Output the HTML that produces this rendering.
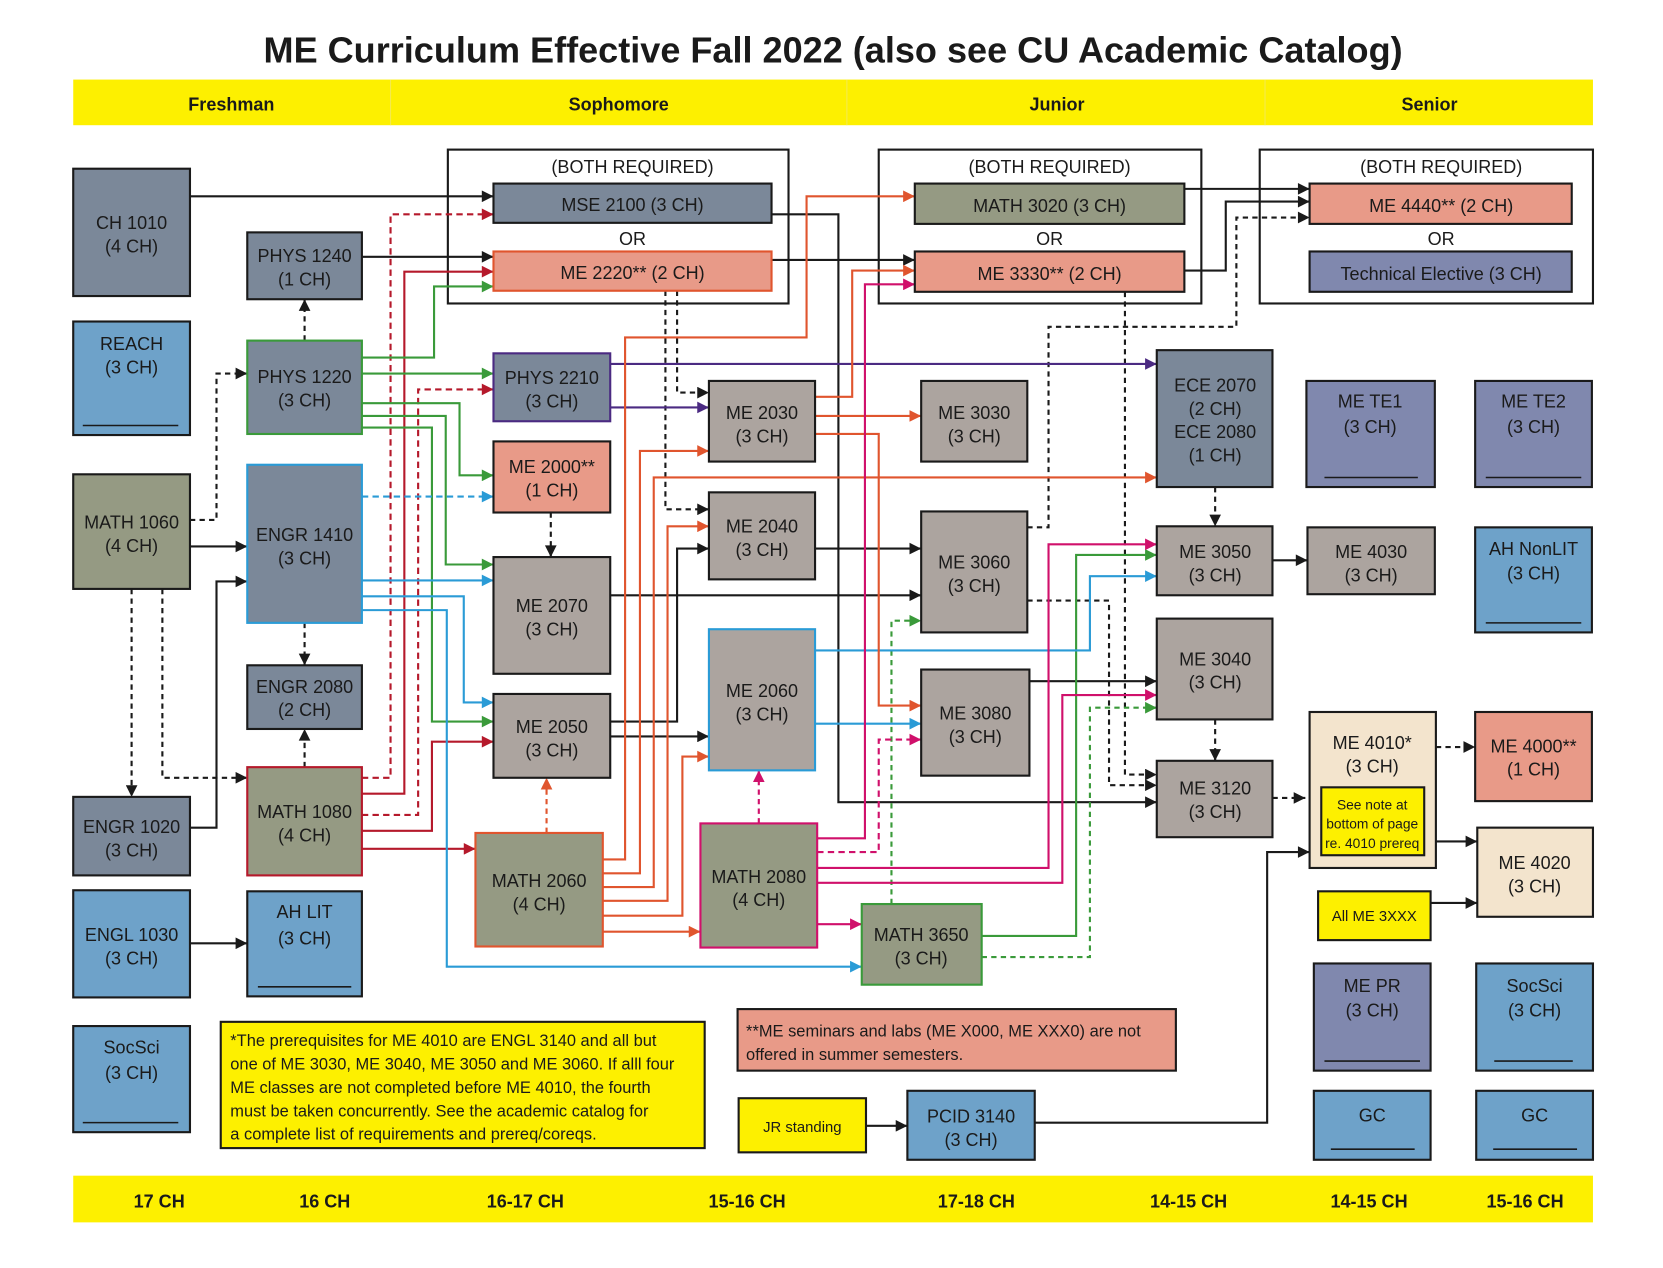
<!DOCTYPE html>
<html><head><meta charset="utf-8"><style>
html,body{margin:0;padding:0;background:#fff;}
svg{display:block;}
text{font-family:"Liberation Sans Narrow","Liberation Sans",sans-serif;font-stretch:condensed;fill:#1a1a1a;}
.b{font-size:17px;text-anchor:middle;}
.s{font-size:13px;text-anchor:middle;}
.n{font-size:15.5px;}
</style></head><body>
<svg width="1663" height="1268" viewBox="0 0 1567 1195" preserveAspectRatio="none" xmlns="http://www.w3.org/2000/svg">
<defs>
<marker id="mk" viewBox="0 0 10 10" refX="10" refY="5" markerWidth="12" markerHeight="11" markerUnits="userSpaceOnUse" orient="auto"><path d="M0,0L10,5L0,10z" fill="#1a1a1a"/></marker>
<marker id="mr" viewBox="0 0 10 10" refX="10" refY="5" markerWidth="12" markerHeight="11" markerUnits="userSpaceOnUse" orient="auto"><path d="M0,0L10,5L0,10z" fill="#b5192b"/></marker>
<marker id="mg" viewBox="0 0 10 10" refX="10" refY="5" markerWidth="12" markerHeight="11" markerUnits="userSpaceOnUse" orient="auto"><path d="M0,0L10,5L0,10z" fill="#3a9a3a"/></marker>
<marker id="mb" viewBox="0 0 10 10" refX="10" refY="5" markerWidth="12" markerHeight="11" markerUnits="userSpaceOnUse" orient="auto"><path d="M0,0L10,5L0,10z" fill="#2a9bd6"/></marker>
<marker id="mo" viewBox="0 0 10 10" refX="10" refY="5" markerWidth="12" markerHeight="11" markerUnits="userSpaceOnUse" orient="auto"><path d="M0,0L10,5L0,10z" fill="#e0552e"/></marker>
<marker id="mp" viewBox="0 0 10 10" refX="10" refY="5" markerWidth="12" markerHeight="11" markerUnits="userSpaceOnUse" orient="auto"><path d="M0,0L10,5L0,10z" fill="#4b2a82"/></marker>
<marker id="mm" viewBox="0 0 10 10" refX="10" refY="5" markerWidth="12" markerHeight="11" markerUnits="userSpaceOnUse" orient="auto"><path d="M0,0L10,5L0,10z" fill="#d0106b"/></marker>
</defs>

<text x="785" y="59" style="font-size:34px;font-weight:bold;text-anchor:middle">ME Curriculum Effective Fall 2022 (also see CU Academic Catalog)</text>

<rect x="69" y="75" width="1432" height="43" fill="#fdf000"/>
<g stroke="#f4ea50" stroke-width="1"><line x1="368" y1="75" x2="368" y2="118"/><line x1="798" y1="75" x2="798" y2="118"/><line x1="1192" y1="75" x2="1192" y2="118"/></g>
<g style="font-weight:bold"><text class="b" x="218" y="104">Freshman</text><text class="b" x="583" y="104">Sophomore</text><text class="b" x="996" y="104">Junior</text><text class="b" x="1347" y="104">Senior</text></g>
<rect x="69" y="1108" width="1432" height="44" fill="#fdf000"/>
<g style="font-weight:bold">
<text class="b" x="150" y="1138">17 CH</text><text class="b" x="306" y="1138">16 CH</text><text class="b" x="495" y="1138">16-17 CH</text><text class="b" x="704" y="1138">15-16 CH</text><text class="b" x="920" y="1138">17-18 CH</text><text class="b" x="1120" y="1138">14-15 CH</text><text class="b" x="1290" y="1138">14-15 CH</text><text class="b" x="1437" y="1138">15-16 CH</text></g>

<g fill="#fff" stroke="#1a1a1a" stroke-width="2">
<rect x="422" y="141" width="321" height="145"/>
<rect x="828" y="141" width="304" height="145"/>
<rect x="1187" y="141" width="314" height="145"/>
</g>
<text class="b" x="596" y="163">(BOTH REQUIRED)</text><text class="b" x="596" y="231">OR</text>
<text class="b" x="989" y="163">(BOTH REQUIRED)</text><text class="b" x="989" y="231">OR</text>
<text class="b" x="1358" y="163">(BOTH REQUIRED)</text><text class="b" x="1358" y="231">OR</text>

<g fill="none" stroke-width="2">
<g stroke="#1a1a1a" marker-end="url(#mk)">
<polyline points="179,185 465,185"/>
<polyline points="341,242 465,242"/>
<polyline points="287,321 287,282" stroke-dasharray="5,4"/>
<polyline points="179,490 204,490 204,352 233,352" stroke-dasharray="5,4"/>
<polyline points="179,515 233,515"/>
<polyline points="124,555 124,751" stroke-dasharray="5,4"/>
<polyline points="153,555 153,733 233,733" stroke-dasharray="5,4"/>
<polyline points="179,780 204,780 204,548 233,548"/>
<polyline points="287,587 287,627" stroke-dasharray="5,4"/>
<polyline points="287,723 287,687" stroke-dasharray="5,4"/>
<polyline points="179,889 233,889"/>
<polyline points="519,483 519,525" stroke-dasharray="5,4"/>
<polyline points="627,274 627,480 668,480" stroke-dasharray="5,4"/>
<polyline points="638,274 638,370 668,370" stroke-dasharray="5,4"/>
<polyline points="727,202 790,202 790,756 1090,756"/>
<polyline points="727,245 862,245"/>
<polyline points="768,517 868,517"/>
<polyline points="575,561 868,561"/>
<polyline points="575,680 638,680 638,517 668,517"/>
<polyline points="575,694 668,694"/>
<polyline points="1116,178 1234,178"/>
<polyline points="1116,255 1155,255 1155,190 1234,190"/>
<polyline points="968,497 988,497 988,308 1165,308 1165,205 1234,205" stroke-dasharray="5,4"/>
<polyline points="1060,275 1060,730 1090,730" stroke-dasharray="5,4"/>
<polyline points="968,566 1045,566 1045,740 1090,740" stroke-dasharray="5,4"/>
<polyline points="1145,459 1145,496" stroke-dasharray="5,4"/>
<polyline points="1199,528 1232,528"/>
<polyline points="970,642 1090,642"/>
<polyline points="1145,678 1145,717" stroke-dasharray="5,4"/>
<polyline points="1199,752 1230,752" stroke-dasharray="5,4"/>
<polyline points="1353,704 1390,704" stroke-dasharray="5,4"/>
<polyline points="1353,793 1392,793"/>
<polyline points="1348,851 1392,851"/>
<polyline points="816,1061 855,1061"/>
<polyline points="975,1058 1194,1058 1194,803 1234,803"/>
</g>
<g stroke="#b5192b" marker-end="url(#mr)">
<polyline points="341,733 368,733 368,202 465,202" stroke-dasharray="6,4"/>
<polyline points="341,748 381,748 381,256 465,256"/>
<polyline points="341,768 394,768 394,367 465,367" stroke-dasharray="6,4"/>
<polyline points="341,783 407,783 407,699 465,699"/>
<polyline points="341,800 448,800"/>
</g>
<g stroke="#3a9a3a" marker-end="url(#mg)">
<polyline points="341,337 409,337 409,270 465,270"/>
<polyline points="341,352 465,352"/>
<polyline points="341,380 433,380 433,448 465,448"/>
<polyline points="341,392 420,392 420,532 465,532"/>
<polyline points="341,403 407,403 407,680 465,680"/>
<polyline points="840,852 840,585 868,585" stroke-dasharray="5,4"/>
<polyline points="925,882 1014,882 1014,523 1090,523"/>
<polyline points="925,902 1027,902 1027,667 1090,667" stroke-dasharray="5,4"/>
</g>
<g stroke="#2a9bd6" marker-end="url(#mb)">
<polyline points="341,468 465,468" stroke-dasharray="6,4"/>
<polyline points="341,547 465,547"/>
<polyline points="341,562 437,562 437,662 465,662"/>
<polyline points="341,575 421,575 421,911 812,911"/>
<polyline points="768,613 1027,613 1027,543 1090,543"/>
<polyline points="768,682 868,682"/>
</g>
<g stroke="#4b2a82" marker-end="url(#mp)">
<polyline points="575,343 1090,343"/>
<polyline points="575,384 668,384"/>
</g>
<g stroke="#e0552e" marker-end="url(#mo)">
<polyline points="515,785 515,733" stroke-dasharray="5,4"/>
<polyline points="568,810 589,810 589,318 760,318 760,185 862,185"/>
<polyline points="568,823 603,823 603,425 668,425"/>
<polyline points="568,836 616,836 616,450 1090,450"/>
<polyline points="568,849 629,849 629,496 668,496"/>
<polyline points="568,863 643,863 643,713 668,713"/>
<polyline points="568,878 660,878"/>
<polyline points="768,374 803,374 803,255 862,255"/>
<polyline points="768,392 868,392"/>
<polyline points="768,409 828,409 828,665 868,665"/>
</g>
<g stroke="#d0106b" marker-end="url(#mm)">
<polyline points="715,776 715,726" stroke-dasharray="5,4"/>
<polyline points="770,790 815,790 815,268 862,268"/>
<polyline points="770,803 828,803 828,697 868,697" stroke-dasharray="6,4"/>
<polyline points="770,818 988,818 988,513 1090,513"/>
<polyline points="770,832 1001,832 1001,655 1090,655"/>
<polyline points="770,871 812,871"/>
</g>
</g>

<g stroke="#1a1a1a" stroke-width="2">
<rect x="69" y="159" width="110" height="120" fill="#7b8899"/>
<rect x="69" y="303" width="110" height="107" fill="#6ea2c9"/>
<rect x="69" y="447" width="110" height="108" fill="#959a83"/>
<rect x="69" y="751" width="110" height="74" fill="#7b8899"/>
<rect x="69" y="839" width="110" height="101" fill="#6ea2c9"/>
<rect x="69" y="967" width="110" height="100" fill="#6ea2c9"/>
<rect x="233" y="219" width="108" height="63" fill="#7b8899"/>
<rect x="233" y="321" width="108" height="88" fill="#7b8899" stroke="#3a9a3a"/>
<rect x="233" y="438" width="108" height="149" fill="#7b8899" stroke="#2a9bd6"/>
<rect x="233" y="627" width="108" height="60" fill="#7b8899"/>
<rect x="233" y="723" width="108" height="102" fill="#959a83" stroke="#b5192b"/>
<rect x="233" y="840" width="108" height="99" fill="#6ea2c9"/>
<rect x="465" y="173" width="262" height="37" fill="#7b8899"/>
<rect x="465" y="237" width="262" height="37" fill="#e89a88" stroke="#e0552e"/>
<rect x="465" y="333" width="110" height="64" fill="#7b8899" stroke="#4b2a82"/>
<rect x="465" y="416" width="110" height="67" fill="#e89a88"/>
<rect x="465" y="525" width="110" height="110" fill="#aca49f"/>
<rect x="465" y="654" width="110" height="79" fill="#aca49f"/>
<rect x="448" y="785" width="120" height="107" fill="#959a83" stroke="#e0552e"/>
<rect x="668" y="359" width="100" height="76" fill="#aca49f"/>
<rect x="668" y="464" width="100" height="82" fill="#aca49f"/>
<rect x="668" y="593" width="100" height="133" fill="#aca49f" stroke="#2a9bd6"/>
<rect x="660" y="776" width="110" height="117" fill="#959a83" stroke="#d0106b"/>
<rect x="862" y="173" width="254" height="38" fill="#959a83"/>
<rect x="862" y="237" width="254" height="38" fill="#e89a88"/>
<rect x="868" y="359" width="100" height="76" fill="#aca49f"/>
<rect x="868" y="482" width="100" height="114" fill="#aca49f"/>
<rect x="868" y="631" width="102" height="100" fill="#aca49f"/>
<rect x="812" y="852" width="113" height="76" fill="#959a83" stroke="#3a9a3a"/>
<rect x="1234" y="173" width="247" height="38" fill="#e89a88"/>
<rect x="1234" y="237" width="247" height="38" fill="#8088ae"/>
<rect x="1090" y="330" width="109" height="129" fill="#7b8899"/>
<rect x="1090" y="496" width="109" height="65" fill="#aca49f"/>
<rect x="1090" y="583" width="109" height="95" fill="#aca49f"/>
<rect x="1090" y="717" width="109" height="72" fill="#aca49f"/>
<rect x="1231" y="359" width="121" height="100" fill="#8088ae"/>
<rect x="1390" y="359" width="110" height="100" fill="#8088ae"/>
<rect x="1232" y="497" width="120" height="63" fill="#aca49f"/>
<rect x="1390" y="497" width="110" height="99" fill="#6ea2c9"/>
<rect x="1234" y="671" width="119" height="147" fill="#f3e4cd"/>
<rect x="1245" y="742" width="97" height="64" fill="#fdf000"/>
<rect x="1390" y="671" width="110" height="84" fill="#e89a88"/>
<rect x="1392" y="780" width="109" height="84" fill="#f3e4cd"/>
<rect x="1242" y="840" width="106" height="46" fill="#fdf000"/>
<rect x="1238" y="908" width="110" height="101" fill="#8088ae"/>
<rect x="1391" y="908" width="110" height="101" fill="#6ea2c9"/>
<rect x="1238" y="1028" width="110" height="65" fill="#6ea2c9"/>
<rect x="1391" y="1028" width="110" height="65" fill="#6ea2c9"/>
<rect x="208" y="963" width="456" height="119" fill="#fdf000"/>
<rect x="695" y="951" width="413" height="58" fill="#e89a88"/>
<rect x="696" y="1035" width="120" height="51" fill="#fdf000"/>
<rect x="855" y="1028" width="120" height="65" fill="#6ea2c9"/>
</g>
<g stroke="#1a1a1a" stroke-width="1.5">
<line x1="78" y1="401" x2="168" y2="401"/><line x1="78" y1="1058" x2="168" y2="1058"/>
<line x1="243" y1="930" x2="331" y2="930"/>
<line x1="1248" y1="450" x2="1336" y2="450"/><line x1="1400" y1="450" x2="1490" y2="450"/>
<line x1="1400" y1="587" x2="1490" y2="587"/>
<line x1="1248" y1="1000" x2="1338" y2="1000"/><line x1="1408" y1="1000" x2="1482" y2="1000"/>
<line x1="1254" y1="1083" x2="1333" y2="1083"/><line x1="1407" y1="1083" x2="1486" y2="1083"/>
</g>

<g>
<text class="b" x="124" y="216">CH 1010</text><text class="b" x="124" y="238">(4 CH)</text>
<text class="b" x="124" y="330">REACH</text><text class="b" x="124" y="352">(3 CH)</text>
<text class="b" x="124" y="498">MATH 1060</text><text class="b" x="124" y="520">(4 CH)</text>
<text class="b" x="124" y="785">ENGR 1020</text><text class="b" x="124" y="807">(3 CH)</text>
<text class="b" x="124" y="887">ENGL 1030</text><text class="b" x="124" y="909">(3 CH)</text>
<text class="b" x="124" y="993">SocSci</text><text class="b" x="124" y="1017">(3 CH)</text>
<text class="b" x="287" y="247">PHYS 1240</text><text class="b" x="287" y="269">(1 CH)</text>
<text class="b" x="287" y="361">PHYS 1220</text><text class="b" x="287" y="383">(3 CH)</text>
<text class="b" x="287" y="510">ENGR 1410</text><text class="b" x="287" y="532">(3 CH)</text>
<text class="b" x="287" y="653">ENGR 2080</text><text class="b" x="287" y="675">(2 CH)</text>
<text class="b" x="287" y="771">MATH 1080</text><text class="b" x="287" y="793">(4 CH)</text>
<text class="b" x="287" y="865">AH LIT</text><text class="b" x="287" y="890">(3 CH)</text>
<text class="b" x="596" y="199">MSE 2100 (3 CH)</text>
<text class="b" x="596" y="263">ME 2220** (2 CH)</text>
<text class="b" x="520" y="362">PHYS 2210</text><text class="b" x="520" y="384">(3 CH)</text>
<text class="b" x="520" y="446">ME 2000**</text><text class="b" x="520" y="468">(1 CH)</text>
<text class="b" x="520" y="577">ME 2070</text><text class="b" x="520" y="599">(3 CH)</text>
<text class="b" x="520" y="691">ME 2050</text><text class="b" x="520" y="713">(3 CH)</text>
<text class="b" x="508" y="836">MATH 2060</text><text class="b" x="508" y="858">(4 CH)</text>
<text class="b" x="718" y="395">ME 2030</text><text class="b" x="718" y="417">(3 CH)</text>
<text class="b" x="718" y="502">ME 2040</text><text class="b" x="718" y="524">(3 CH)</text>
<text class="b" x="718" y="657">ME 2060</text><text class="b" x="718" y="679">(3 CH)</text>
<text class="b" x="715" y="832">MATH 2080</text><text class="b" x="715" y="854">(4 CH)</text>
<text class="b" x="989" y="200">MATH 3020 (3 CH)</text>
<text class="b" x="989" y="264">ME 3330** (2 CH)</text>
<text class="b" x="918" y="395">ME 3030</text><text class="b" x="918" y="417">(3 CH)</text>
<text class="b" x="918" y="536">ME 3060</text><text class="b" x="918" y="558">(3 CH)</text>
<text class="b" x="919" y="678">ME 3080</text><text class="b" x="919" y="700">(3 CH)</text>
<text class="b" x="868" y="887">MATH 3650</text><text class="b" x="868" y="909">(3 CH)</text>
<text class="b" x="1358" y="200">ME 4440** (2 CH)</text>
<text class="b" x="1358" y="264">Technical Elective (3 CH)</text>
<text class="b" x="1145" y="369">ECE 2070</text><text class="b" x="1145" y="391">(2 CH)</text><text class="b" x="1145" y="413">ECE 2080</text><text class="b" x="1145" y="435">(1 CH)</text>
<text class="b" x="1145" y="526">ME 3050</text><text class="b" x="1145" y="548">(3 CH)</text>
<text class="b" x="1145" y="627">ME 3040</text><text class="b" x="1145" y="649">(3 CH)</text>
<text class="b" x="1145" y="749">ME 3120</text><text class="b" x="1145" y="771">(3 CH)</text>
<text class="b" x="1291" y="384">ME TE1</text><text class="b" x="1291" y="408">(3 CH)</text>
<text class="b" x="1445" y="384">ME TE2</text><text class="b" x="1445" y="408">(3 CH)</text>
<text class="b" x="1292" y="526">ME 4030</text><text class="b" x="1292" y="548">(3 CH)</text>
<text class="b" x="1445" y="523">AH NonLIT</text><text class="b" x="1445" y="546">(3 CH)</text>
<text class="b" x="1293" y="706">ME 4010*</text><text class="b" x="1293" y="728">(3 CH)</text>
<text class="s" x="1293" y="763">See note at</text><text class="s" x="1293" y="781">bottom of page</text><text class="s" x="1293" y="799">re. 4010 prereq</text>
<text class="b" x="1445" y="709">ME 4000**</text><text class="b" x="1445" y="731">(1 CH)</text>
<text class="b" x="1446" y="819">ME 4020</text><text class="b" x="1446" y="841">(3 CH)</text>
<text class="s" x="1295" y="868" style="font-size:14px">All ME 3XXX</text>
<text class="b" x="1293" y="935">ME PR</text><text class="b" x="1293" y="958">(3 CH)</text>
<text class="b" x="1446" y="935">SocSci</text><text class="b" x="1446" y="958">(3 CH)</text>
<text class="b" x="1293" y="1057">GC</text><text class="b" x="1446" y="1057">GC</text>
<text class="b" x="915" y="1058">PCID 3140</text><text class="b" x="915" y="1080">(3 CH)</text>
<text class="s" x="756" y="1067" style="font-size:14px">JR standing</text>
<text class="n" x="217" y="986">*The prerequisites for ME 4010 are ENGL 3140 and all but</text>
<text class="n" x="217" y="1008">one of ME 3030, ME 3040, ME 3050 and ME 3060. If alll four</text>
<text class="n" x="217" y="1030">ME classes are not completed before ME 4010, the fourth</text>
<text class="n" x="217" y="1052">must be taken concurrently. See the academic catalog for</text>
<text class="n" x="217" y="1074">a complete list of requirements and prereq/coreqs.</text>
<text class="n" x="703" y="977">**ME seminars and labs (ME X000, ME XXX0) are not</text>
<text class="n" x="703" y="999">offered in summer semesters.</text>
</g>
</svg>
</body></html>
